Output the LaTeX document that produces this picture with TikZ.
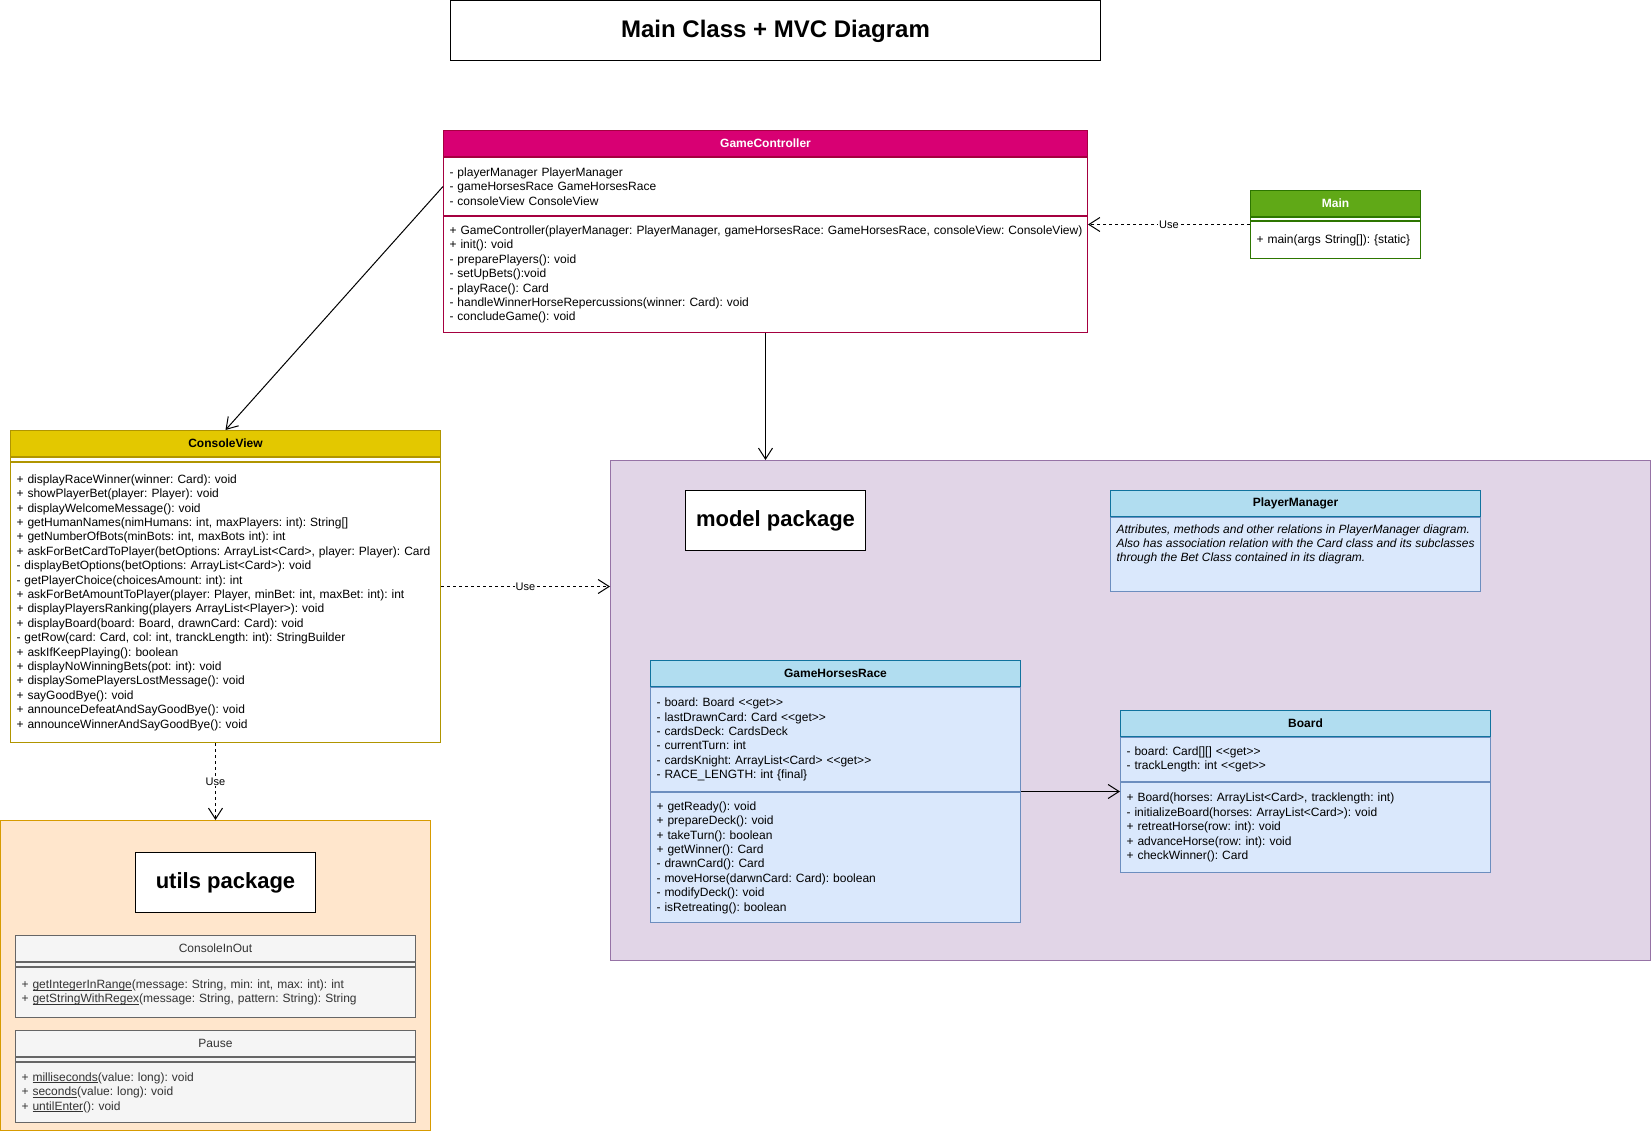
\documentclass[tikz,border=0pt]{standalone}
\usepackage{fontspec}
\setmainfont{Liberation Sans}
\usetikzlibrary{positioning,arrows.meta,calc}
\definecolor{gcfill}{HTML}{D80073}
\definecolor{gcline}{HTML}{A50040}
\definecolor{mainfill}{HTML}{60A917}
\definecolor{mainline}{HTML}{2D7600}
\definecolor{cvfill}{HTML}{E3C800}
\definecolor{cvline}{HTML}{B09500}
\definecolor{mdlfill}{HTML}{E1D5E7}
\definecolor{mdlline}{HTML}{9673A6}
\definecolor{clshd}{HTML}{B1DDF0}
\definecolor{clshdline}{HTML}{10739E}
\definecolor{clsfill}{HTML}{DAE8FC}
\definecolor{clsline}{HTML}{6C8EBF}
\definecolor{utlfill}{HTML}{FFE6CC}
\definecolor{utlline}{HTML}{D79B00}
\definecolor{grfill}{HTML}{F5F5F5}
\definecolor{grline}{HTML}{666666}
\definecolor{grtext}{HTML}{333333}
\newcommand{\getter}{<{}<get>{}>}
\newcommand{\stat}[1]{\underline{\smash{#1}}}
\frenchspacing
\begin{document}
\begin{tikzpicture}[x=1pt,y=-1pt,line width=1pt,
  >={Straight Barb[length=11pt,width=14pt]},
  hd/.style={draw, anchor=north west, minimum height=26pt, inner sep=0pt,
    font=\fontsize{12}{14.4}\selectfont\bfseries},
  mem/.style={draw, fill=white, align=left, inner xsep=6pt, inner ysep=0pt,
    font=\fontsize{12}{14.4}\selectfont},
  pkg/.style={draw, anchor=north west, inner sep=0pt},
  pkgname/.style={draw=black, fill=white, anchor=north west, minimum width=180pt,
    minimum height=60pt, inner sep=0pt, font=\fontsize{22}{26}\selectfont\bfseries},
  use/.style={->, dashed, dash pattern=on 3pt off 3pt},
  uselbl/.style={fill=white, inner sep=1pt, font=\fontsize{11}{13}\selectfont}]
  \useasboundingbox (0,0) rectangle (1651,1131);

  % packages
  \node[pkg, draw=mdlline, fill=mdlfill, minimum width=1040pt, minimum height=500pt] (model) at (610,460) {};
  \node[pkg, draw=utlline, fill=utlfill, minimum width=430pt, minimum height=310pt] (utils) at (0,820) {};
  \node[pkgname] (mdlname) at (685,490) {model package};
  \node[pkgname] (utlname) at (135,852) {utils package};

  % title
  \node[draw, anchor=north west, minimum width=650pt, minimum height=60pt, inner sep=0pt,
    font=\fontsize{24}{28}\selectfont\bfseries] (title) at (450,0.5) {Main Class + MVC Diagram};

  % GameController
  \node[hd, draw=gcline, fill=gcfill, text=white, minimum width=644pt] (gchd) at (443,130) {GameController};
  \node[mem, draw=gcline, text width=632pt, minimum height=58pt, below=0pt of gchd] (gcattr)
    {- playerManager PlayerManager\\- gameHorsesRace GameHorsesRace\\- consoleView ConsoleView};
  \node[mem, draw=gcline, text width=632pt, minimum height=116pt, below=0pt of gcattr] (gcmeth)
    {\mbox{+ GameController(playerManager: PlayerManager, gameHorsesRace: GameHorsesRace, consoleView: ConsoleView)}\\
     + init(): void\\- preparePlayers(): void\\- setUpBets():void\\- playRace(): Card\\
     - handleWinnerHorseRepercussions(winner: Card): void\\- concludeGame(): void};

  % Main
  \node[hd, draw=mainline, fill=mainfill, text=white, minimum width=170pt] (mainhd) at (1250,190) {Main};
  \node[mem, draw=mainline, minimum width=170pt, minimum height=3pt, below=0pt of mainhd] (mainsep) {};
  \node[mem, draw=mainline, text width=158pt, minimum height=37pt, below=0pt of mainsep] (mainmeth)
    {+ main(args String[]): \{static\}};

  % ConsoleView
  \node[hd, draw=cvline, fill=cvfill, minimum width=430pt] (cvhd) at (10,430) {ConsoleView};
  \node[mem, draw=cvline, minimum width=430pt, minimum height=4pt, below=0pt of cvhd] (cvsep) {};
  \node[mem, draw=cvline, text width=418pt, minimum height=280pt, below=0pt of cvsep] (cvmeth)
    {+ displayRaceWinner(winner: Card): void\\
     + showPlayerBet(player: Player): void\\
     + displayWelcomeMessage(): void\\
     + getHumanNames(nimHumans: int, maxPlayers: int): String[]\\
     + getNumberOfBots(minBots: int, maxBots int): int\\
     \mbox{+ askForBetCardToPlayer(betOptions: ArrayList<Card>, player: Player): Card}\\
     - displayBetOptions(betOptions: ArrayList<Card>): void\\
     - getPlayerChoice(choicesAmount: int): int\\
     + askForBetAmountToPlayer(player: Player, minBet: int, maxBet: int): int\\
     + displayPlayersRanking(players ArrayList<Player>): void\\
     + displayBoard(board: Board, drawnCard: Card): void\\
     - getRow(card: Card, col: int, tranckLength: int): StringBuilder\\
     + askIfKeepPlaying(): boolean\\
     + displayNoWinningBets(pot: int): void\\
     + displaySomePlayersLostMessage(): void\\
     + sayGoodBye(): void\\
     + announceDefeatAndSayGoodBye(): void\\
     + announceWinnerAndSayGoodBye(): void};

  % PlayerManager
  \node[hd, draw=clshdline, fill=clshd, minimum width=370pt] (pmhd) at (1110,490) {PlayerManager};
  \node[mem, draw=clsline, fill=clsfill, minimum width=370pt, minimum height=74pt, below=0pt of pmhd] (pmbody) {};
  \node[anchor=north west, align=left, inner xsep=6pt, inner ysep=7pt,
    font=\fontsize{12}{14.4}\selectfont\itshape] (pmnote) at (pmbody.north west)
    {Attributes, methods and other relations in PlayerManager diagram.\\
     Also has association relation with the Card class and its subclasses\\
     through the Bet Class contained in its diagram.};

  % GameHorsesRace
  \node[hd, draw=clshdline, fill=clshd, minimum width=370pt] (ghrhd) at (650,660) {GameHorsesRace};
  \node[mem, draw=clsline, fill=clsfill, text width=358pt, minimum height=104pt, below=0pt of ghrhd] (ghrattr)
    {- board: Board \getter\\- lastDrawnCard: Card \getter\\- cardsDeck: CardsDeck\\
     - currentTurn: int\\- cardsKnight: ArrayList<Card> \getter\\- RACE\_LENGTH: int \{final\}};
  \node[mem, draw=clsline, fill=clsfill, text width=358pt, minimum height=130pt, below=0pt of ghrattr] (ghrmeth)
    {+ getReady(): void\\+ prepareDeck(): void\\+ takeTurn(): boolean\\+ getWinner(): Card\\
     - drawnCard(): Card\\- moveHorse(darwnCard: Card): boolean\\- modifyDeck(): void\\- isRetreating(): boolean};

  % Board
  \node[hd, draw=clshdline, fill=clshd, minimum width=370pt] (brdhd) at (1120,710) {Board};
  \node[mem, draw=clsline, fill=clsfill, text width=358pt, minimum height=44pt, below=0pt of brdhd] (brdattr)
    {- board: Card[][] \getter\\- trackLength: int \getter};
  \node[mem, draw=clsline, fill=clsfill, text width=358pt, minimum height=90pt, below=0pt of brdattr] (brdmeth)
    {+ Board(horses: ArrayList<Card>, tracklength: int)\\- initializeBoard(horses: ArrayList<Card>): void\\
     + retreatHorse(row: int): void\\+ advanceHorse(row: int): void\\+ checkWinner(): Card};

  % ConsoleInOut
  \node[hd, draw=grline, fill=grfill, text=grtext, minimum width=400pt, font=\fontsize{12}{14.4}\selectfont] (ciohd) at (15,935) {ConsoleInOut};
  \node[mem, draw=grline, fill=grfill, minimum width=400pt, minimum height=4pt, below=0pt of ciohd] (ciosep) {};
  \node[mem, draw=grline, fill=grfill, text=grtext, text width=388pt, minimum height=50pt, below=0pt of ciosep] (ciometh)
    {+ \stat{getIntegerInRange}(message: String, min: int, max: int): int\\
     + \stat{getStringWithRegex}(message: String, pattern: String): String};

  % Pause
  \node[hd, draw=grline, fill=grfill, text=grtext, minimum width=400pt, font=\fontsize{12}{14.4}\selectfont] (pshd) at (15,1030) {Pause};
  \node[mem, draw=grline, fill=grfill, minimum width=400pt, minimum height=4pt, below=0pt of pshd] (pssep) {};
  \node[mem, draw=grline, fill=grfill, text=grtext, text width=388pt, minimum height=60pt, below=0pt of pssep] (psmeth)
    {+ \stat{milliseconds}(value: long): void\\+ \stat{seconds}(value: long): void\\+ \stat{untilEnter}(): void};

  % relations
  \draw[->] (gcattr.west) -- (cvhd.north);
  \draw[->] (gcmeth.south) -- (gcmeth.south |- model.north);
  \coordinate (mainmid) at ($(mainhd.north west)!0.5!(mainmeth.south west)$);
  \draw[use] (mainmid) -- node[uselbl] {Use} (mainmid -| gcmeth.east);
  \coordinate (cvmid) at ($(cvhd.north east)!0.5!(cvmeth.south east)$);
  \draw[use] (cvmid) -- node[uselbl] {Use} (cvmid -| model.west);
  \draw[use] (cvmeth.south -| utils.north) -- node[uselbl] {Use} (utils.north);
  \coordinate (ghrmid) at ($(ghrhd.north east)!0.5!(ghrmeth.south east)$);
  \draw[->] (ghrmid) -- (ghrmid -| brdmeth.west);

\end{tikzpicture}
\end{document}
